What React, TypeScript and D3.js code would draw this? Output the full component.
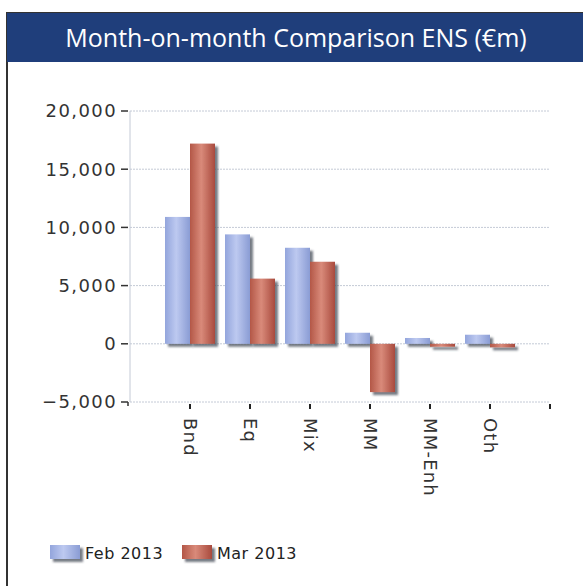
import * as d3 from "d3";

const categories = ["Bnd", "Eq", "Mix", "MM", "MM-Enh", "Oth"];
const seriesNames = ["Feb 2013", "Mar 2013"];
const feb2013 = [10900, 9400, 8250, 950, 500, 780];
const mar2013 = [17200, 5600, 7050, -4150, -250, -300];
const yTicks = [-5000, 0, 5000, 10000, 15000, 20000];

const WIDTH = 583;
const HEIGHT = 586;
const FONT = "'DejaVu Sans', Verdana, sans-serif";

export default function App() {
  const plot = { left: 130, right: 550, top: 111, bottom: 402 };

  const y = d3.scaleLinear().domain([-5000, 20000]).range([plot.bottom, plot.top]);

  // one step per category, the first centred one step in from the axis,
  // with an empty half step before the end of the axis
  const step = (plot.right - plot.left) / (categories.length + 1);
  const x = d3
    .scaleBand()
    .domain(categories)
    .range([plot.left + step / 2, plot.right - step / 2])
    .paddingInner(0);
  const inner = d3
    .scaleBand()
    .domain(seriesNames)
    .range([(x.bandwidth() - 50) / 2, (x.bandwidth() + 50) / 2]);

  const series = [
    { name: seriesNames[0], values: feb2013, grad: "url(#gFeb)" },
    { name: seriesNames[1], values: mar2013, grad: "url(#gMar)" },
  ];

  const fmt = d3.format(",");
  const xTickPositions = [
    ...categories.map((c) => (x(c) ?? 0) + x.bandwidth() / 2),
    plot.right,
  ];

  return (
    <div style={{ position: "absolute", left: 0, top: 0 }}>
      <svg width={WIDTH} height={HEIGHT} style={{ display: "block" }}>
        <defs>
          <linearGradient id="gFeb" x1="0" x2="1" y1="0" y2="0">
            <stop offset="0" stopColor="#93a5dc" />
            <stop offset="0.45" stopColor="#bdc9f0" />
            <stop offset="1" stopColor="#8a9cd4" />
          </linearGradient>
          <linearGradient id="gMar" x1="0" x2="1" y1="0" y2="0">
            <stop offset="0" stopColor="#b35747" />
            <stop offset="0.45" stopColor="#d98a7a" />
            <stop offset="1" stopColor="#a84a3d" />
          </linearGradient>
          <filter id="shadow" x="-30%" y="-30%" width="160%" height="160%">
            <feDropShadow dx="3" dy="3" stdDeviation="1.3" floodColor="#3c4350" floodOpacity="0.7" />
          </filter>
        </defs>

        <rect x={0} y={0} width={WIDTH} height={HEIGHT} fill="#ffffff" />

        {/* frame + header */}
        <rect x={7} y={13} width={WIDTH} height={HEIGHT} fill="none" stroke="#333" strokeWidth={2} />
        <rect x={7} y={13} width={WIDTH} height={49} fill="#1f3e7b" />
        <text
          x={296}
          y={47}
          textAnchor="middle"
          fill="#ffffff"
          fontFamily="'Open Sans', sans-serif"
          fontSize={25}
        >
          Month-on-month Comparison ENS (€m)
        </text>

        {/* grid */}
        {yTicks.map((t) => (
          <line
            key={t}
            x1={plot.left}
            x2={plot.right}
            y1={y(t)}
            y2={y(t)}
            stroke="#c4cad6"
            strokeWidth={1}
            strokeDasharray="2,1"
          />
        ))}
        <line x1={plot.left} x2={plot.left} y1={plot.top} y2={plot.bottom} stroke="#c4cad6" />

        {/* y axis labels */}
        {yTicks.map((t) => (
          <g key={t}>
            <line x1={121} x2={128} y1={y(t)} y2={y(t)} stroke="#333" strokeWidth={1.5} />
            <text
              x={117}
              y={y(t)}
              dy="0.35em"
              textAnchor="end"
              fill="#333"
              fontFamily={FONT}
              fontSize={18}
              letterSpacing={1.4}
            >
              {fmt(t)}
            </text>
          </g>
        ))}
        <line x1={128} x2={128} y1={plot.bottom} y2={plot.bottom + 4} stroke="#333" strokeWidth={1.5} />

        {/* bars */}
        {series.map((s) => (
          <g key={s.name} filter="url(#shadow)">
            {categories.map((c, i) => {
              const v = s.values[i];
              const bx = (x(c) ?? 0) + (inner(s.name) ?? 0);
              return (
                <rect
                  key={c}
                  x={bx}
                  y={Math.min(y(v), y(0))}
                  width={inner.bandwidth()}
                  height={Math.max(1, Math.abs(y(v) - y(0)))}
                  fill={s.grad}
                />
              );
            })}
          </g>
        ))}

        {/* x ticks + labels */}
        {xTickPositions.map((px, i) => (
          <line key={i} x1={px} x2={px} y1={plot.bottom + 2} y2={plot.bottom + 7} stroke="#222" strokeWidth={2} />
        ))}
        {categories.map((c) => {
          const px = (x(c) ?? 0) + x.bandwidth() / 2;
          return (
            <text
              key={c}
              transform={`translate(${px},${plot.bottom + 16}) rotate(90)`}
              dy="0.35em"
              textAnchor="start"
              fill="#333"
              fontFamily={FONT}
              fontSize={18}
              letterSpacing={1.2}
            >
              {c}
            </text>
          );
        })}

        {/* legend */}
        {series.map((s, i) => {
          const lx = 50 + i * 132;
          return (
            <g key={s.name}>
              <rect x={lx} y={545} width={30} height={14} fill={s.grad} filter="url(#shadow)" />
              <text x={lx + 35} y={559} fill="#222" fontFamily={FONT} fontSize={16} letterSpacing={0.5}>
                {s.name}
              </text>
            </g>
          );
        })}
      </svg>
    </div>
  );
}
